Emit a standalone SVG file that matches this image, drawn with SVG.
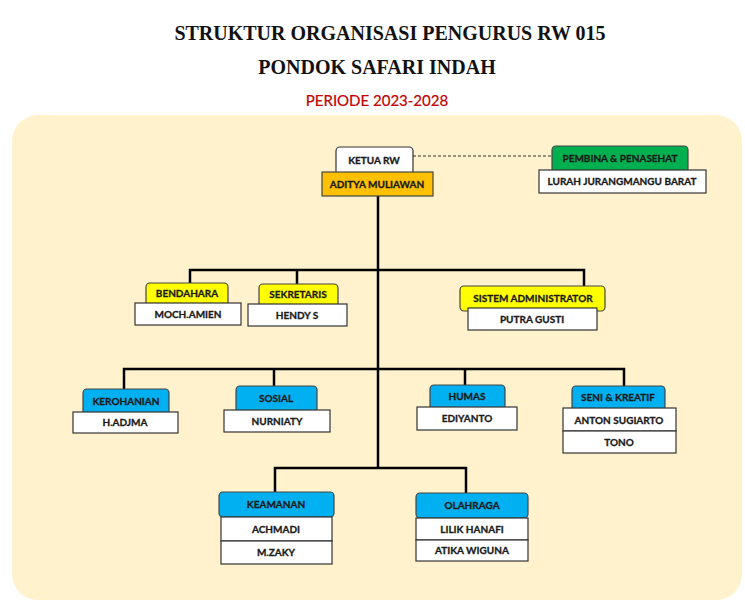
<svg xmlns="http://www.w3.org/2000/svg" width="745" height="610" viewBox="0 0 745 610">
<style>
.t{font-family:"Liberation Serif","Times New Roman",serif;font-weight:bold;fill:#111;text-anchor:middle}
.p{font-family:"Lato","Open Sans",sans-serif;fill:#C00000;text-anchor:middle;font-size:15px;stroke:#C00000;stroke-width:0.2}
.l{font-family:"Lato","Open Sans",sans-serif;font-weight:bold;font-size:10px;fill:#1a1a1a;stroke:#1a1a1a;stroke-width:0.3;text-anchor:middle}
.w{fill:#fff;stroke:#333;stroke-width:1.2}
.y{fill:#FFFF00;stroke:#444;stroke-width:1.2}
.b{fill:#00B0F0;stroke:#444;stroke-width:1.2}
.g{fill:#00B050;stroke:#444;stroke-width:1.2}
.o{fill:#FFC000;stroke:#444;stroke-width:1.2}
.c{fill:none;stroke:#000;stroke-width:2.5}
</style>
<rect x="0" y="0" width="745" height="610" fill="#fff"/>
<rect x="12" y="115" width="730" height="485" rx="26" fill="#FFF2CC"/>
<text class="t" x="390" y="40" font-size="20">STRUKTUR ORGANISASI PENGURUS RW 015</text>
<text class="t" x="377" y="74" font-size="20">PONDOK SAFARI INDAH</text>
<text class="p" x="377" y="106">PERIODE 2023-2028</text>

<g id="connectors">
<line x1="413" y1="156" x2="552" y2="156" stroke="#333" stroke-width="1" stroke-dasharray="3,2"/>
<path class="c" d="M378 196 V468"/>
<path class="c" d="M190 283 V270 H584 V286 M297 270 V284"/>
<path class="c" d="M124 389 V369 H624 V386 M274 369 V386 M465 369 V385"/>
<path class="c" d="M275 492 V468 H466 V493"/>
</g>

<g id="ketua">
<rect class="w" x="336" y="147" width="77" height="28" rx="4"/>
<rect class="o" x="322" y="172" width="111" height="24"/>
<text class="l" x="374" y="163.5">KETUA RW</text>
<text class="l" x="377" y="187.5">ADITYA MULIAWAN</text>
</g>
<g id="pembina">
<rect class="g" x="552" y="146" width="136" height="27" rx="4"/>
<rect class="w" x="539" y="170" width="167" height="23"/>
<text class="l" x="620" y="161.5">PEMBINA &amp; PENASEHAT</text>
<text class="l" x="622" y="185">LURAH JURANGMANGU BARAT</text>
</g>
<g id="bendahara">
<rect class="y" x="146" y="283" width="82" height="23" rx="4"/>
<rect class="w" x="135" y="303" width="106" height="22"/>
<text class="l" x="187" y="297">BENDAHARA</text>
<text class="l" x="188" y="318">MOCH.AMIEN</text>
</g>
<g id="sekretaris">
<rect class="y" x="259" y="284" width="79" height="23" rx="4"/>
<rect class="w" x="248" y="304" width="99" height="22"/>
<text class="l" x="298" y="298">SEKRETARIS</text>
<text class="l" x="297" y="319">HENDY S</text>
</g>
<g id="sysadmin">
<rect class="y" x="460" y="286" width="145" height="25" rx="4"/>
<rect class="w" x="468" y="308" width="129" height="22"/>
<text class="l" x="533" y="301.5">SISTEM ADMINISTRATOR</text>
<text class="l" x="532" y="323">PUTRA GUSTI</text>
</g>
<g id="kerohanian">
<rect class="b" x="83" y="389" width="86" height="26" rx="4"/>
<rect class="w" x="73" y="412" width="105" height="21"/>
<text class="l" x="126" y="404.5">KEROHANIAN</text>
<text class="l" x="125" y="426">H.ADJMA</text>
</g>
<g id="sosial">
<rect class="b" x="236" y="386" width="81" height="27" rx="4"/>
<rect class="w" x="224" y="410" width="106" height="22"/>
<text class="l" x="276" y="402">SOSIAL</text>
<text class="l" x="277" y="425">NURNIATY</text>
</g>
<g id="humas">
<rect class="b" x="430" y="385" width="75" height="25" rx="4"/>
<rect class="w" x="417" y="407" width="100" height="23"/>
<text class="l" x="467" y="400">HUMAS</text>
<text class="l" x="467" y="422">EDIYANTO</text>
</g>
<g id="seni">
<rect class="b" x="572" y="386" width="93" height="25" rx="4"/>
<rect class="w" x="563" y="408" width="113" height="23"/>
<rect class="w" x="563" y="431" width="113" height="22"/>
<text class="l" x="618" y="401">SENI &amp; KREATIF</text>
<text class="l" x="619" y="423.5">ANTON SUGIARTO</text>
<text class="l" x="619" y="446">TONO</text>
</g>
<g id="keamanan">
<rect class="b" x="219" y="492" width="115" height="25" rx="4"/>
<rect class="w" x="221" y="517" width="111" height="24"/>
<rect class="w" x="221" y="541" width="111" height="23"/>
<text class="l" x="276" y="508">KEAMANAN</text>
<text class="l" x="276" y="533">ACHMADI</text>
<text class="l" x="276" y="556">M.ZAKY</text>
</g>
<g id="olahraga">
<rect class="b" x="416" y="493" width="112" height="25" rx="4"/>
<rect class="w" x="416" y="518" width="112" height="22"/>
<rect class="w" x="416" y="540" width="112" height="21"/>
<text class="l" x="472" y="509">OLAHRAGA</text>
<text class="l" x="472" y="533">LILIK HANAFI</text>
<text class="l" x="472" y="554">ATIKA WIGUNA</text>
</g>
</svg>
